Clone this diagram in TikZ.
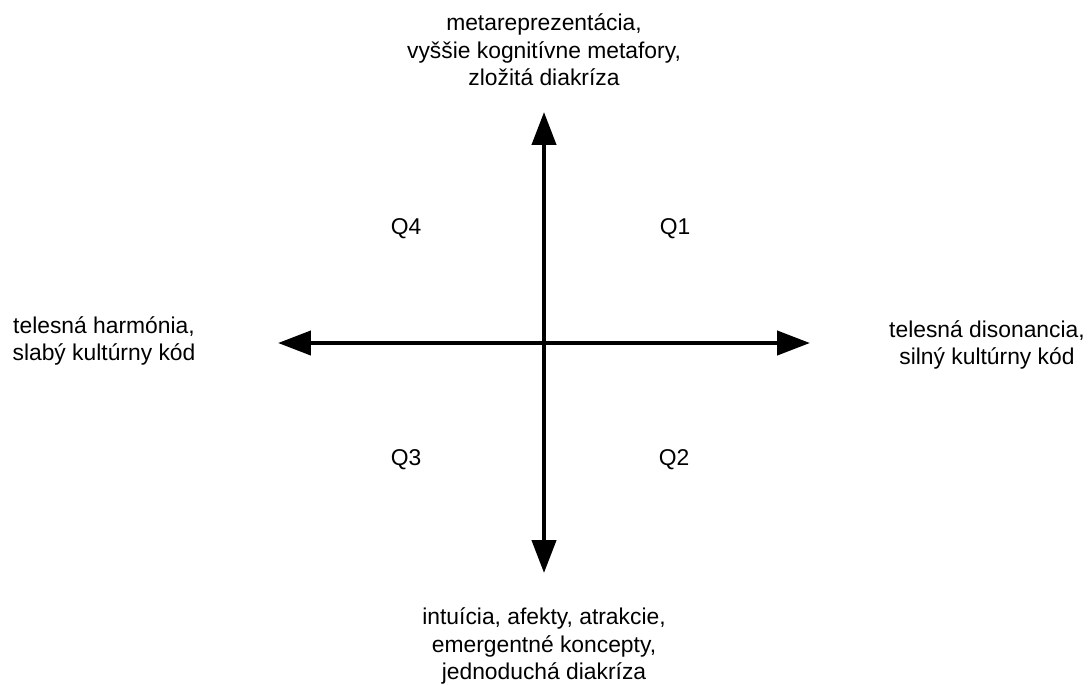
\documentclass[tikz,border=0pt]{standalone}
\usepackage{fontspec}
\setmainfont{Liberation Sans}
\usepackage{tikz}
\usetikzlibrary{
  arrows.meta,
  positioning,
  calc
}

\begin{document}
\begin{tikzpicture}[
  x=0.02cm, y=-0.02cm,
  every node/.style={font=\fontsize{13}{15.6}\selectfont, inner sep=0pt},
  axis/.style={{Triangle[length=18.7pt,width=13.6pt]}-{Triangle[length=18.7pt,width=13.6pt]}, line width=2.4pt},
  pole/.style={align=center},
  quad/.style={}
]
  \useasboundingbox (0,0) rectangle (1088,684);

  % axis ends
  \coordinate (west) at (278,343);
  \coordinate (east) at (810,343);
  \coordinate (north) at (544,112);
  \coordinate (south) at (544,573);

  % axes
  \draw[axis] (west) -- (east);
  \draw[axis] (south) -- (north);

  % pole labels
  \node[pole] (top) at (544,50) {metareprezentácia,\\vyššie kognitívne metafory,\\zložitá diakríza};
  \node[pole] (bottom) at (544,646) {intuícia, afekty, atrakcie,\\emergentné koncepty,\\jednoduchá diakríza};
  \node[pole] (left) at (104,341) {telesná harmónia,\\slabý kultúrny kód};
  \node[pole] (right) at (987,345) {telesná disonancia,\\silný kultúrny kód};

  % quadrants
  \node[quad] (q1) at (675,229) {Q1};
  \node[quad] (q2) at (674,460) {Q2};
  \node[quad] (q3) at (406,460) {Q3};
  \node[quad] (q4) at (406,229) {Q4};

\end{tikzpicture}
\end{document}
